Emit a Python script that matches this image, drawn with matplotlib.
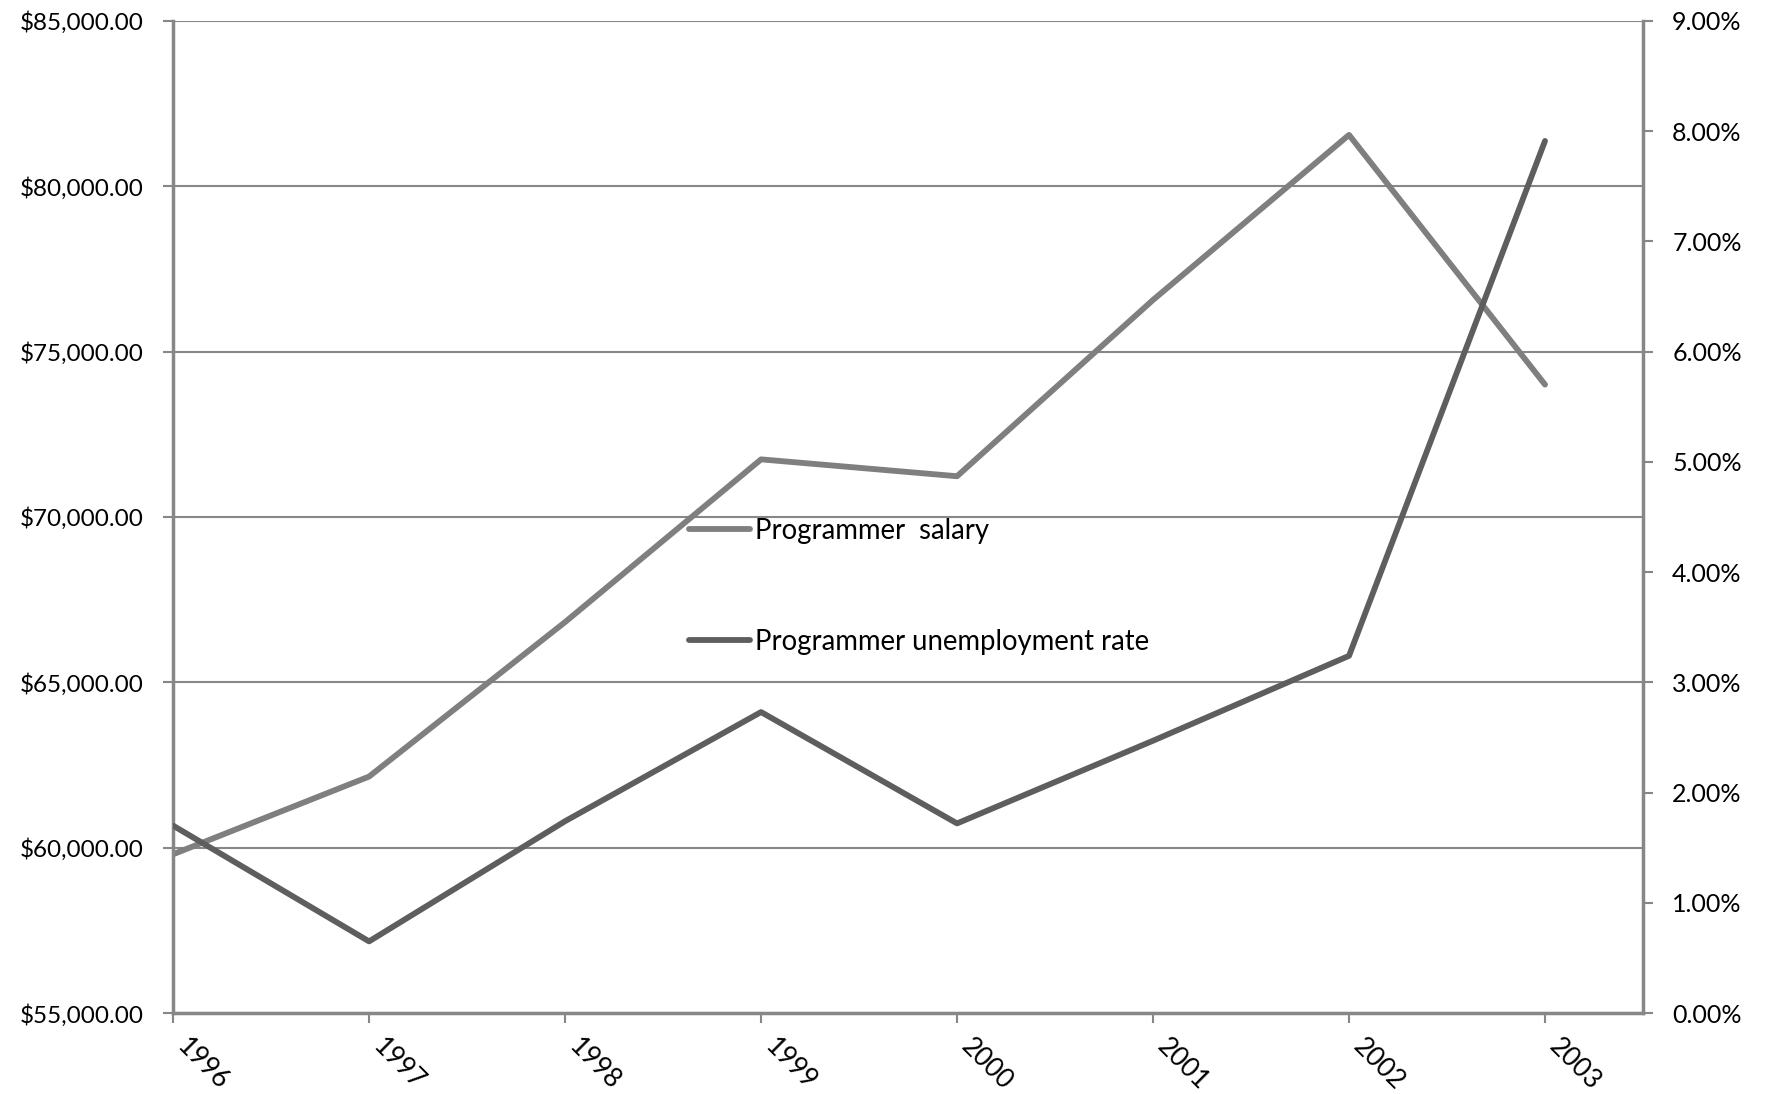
import matplotlib.pyplot as plt
from matplotlib.ticker import FuncFormatter, MultipleLocator
from matplotlib.transforms import ScaledTranslation

plt.rcParams['font.family'] = ['Lato', 'DejaVu Sans']

years = ['1996', '1997', '1998', '1999', '2000', '2001', '2002', '2003']
salary = [59800, 62150, 66820, 71740, 71230, 76560, 81550, 74000]
unemployment = [1.70, 0.65, 1.74, 2.73, 1.72, 2.47, 3.24, 7.91]

salary_color = '#7f7f7f'
unemp_color = '#5e5e5e'
axis_color = '#878787'

fig = plt.figure(figsize=(17.68, 10.94), dpi=100)
ax = fig.add_axes([0.0979, 0.074, 0.8314, 0.907])
ax2 = ax.twinx()

x = list(range(len(years)))
l1, = ax.plot(x, salary, color=salary_color, lw=4.2, solid_capstyle='round',
              label='Programmer  salary')
l2, = ax2.plot(x, unemployment, color=unemp_color, lw=4.2, solid_capstyle='round',
               label='Programmer unemployment rate')

ax.set_xlim(0, 7.5)
ax.set_ylim(55000, 85000)
ax.yaxis.set_major_locator(MultipleLocator(5000))
ax.yaxis.set_major_formatter(FuncFormatter(lambda v, p: '${:,.2f}'.format(v)))
ax.grid(axis='y', color=axis_color, lw=1.5)
ax.set_axisbelow(True)

ax2.set_ylim(0, 9)
ax2.yaxis.set_major_locator(MultipleLocator(1))
ax2.yaxis.set_major_formatter(FuncFormatter(lambda v, p: '{:.2f}%'.format(v)))

for a in (ax, ax2):
    a.spines['top'].set_visible(False)
    for side in ('left', 'right', 'bottom'):
        a.spines[side].set_color(axis_color)
        a.spines[side].set_linewidth(2.5)
    a.tick_params(colors=axis_color, labelcolor='black', labelsize=18,
                  length=7, width=1.5)
ax.tick_params(axis='x', pad=8, labelsize=19)
ax.tick_params(axis='y', pad=14, labelsize=17.5)
ax2.tick_params(axis='y', pad=14)
ax2.spines['left'].set_visible(False)
ax2.spines['bottom'].set_visible(False)
ax.spines['right'].set_visible(False)

ax.set_xticks(x)
ax.set_xticklabels(years, rotation=-45, ha='left', va='top', rotation_mode='anchor')
shift = ScaledTranslation(12 / 72, 0, fig.dpi_scale_trans)
for lab in ax.get_xticklabels():
    lab.set_transform(lab.get_transform() + shift)

ax.legend(handles=[l1, l2], loc='center left', bbox_to_anchor=(0.351, 0.430),
          frameon=False, fontsize=19.8, labelspacing=3.08, handlelength=2.2,
          handletextpad=0.2, borderaxespad=0, borderpad=0)

fig.savefig('out.png', dpi=100)
